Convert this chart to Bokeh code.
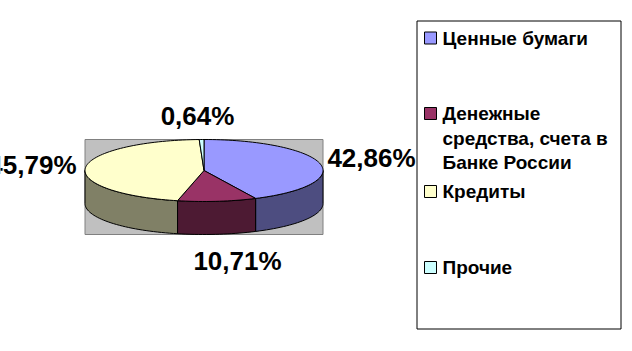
import math
from bokeh.plotting import figure
from bokeh.models import Range1d
from bokeh.core.properties import value
from bokeh.embed import file_html
from bokeh.resources import INLINE

categories = ["Ценные бумаги", "Денежные средства, счета в Банке России", "Кредиты", "Прочие"]
legend_lines = [["Ценные бумаги"], ["Денежные", "средства, счета в", "Банке России"], ["Кредиты"], ["Прочие"]]
shares = [42.86, 10.71, 45.79, 0.64]
labels = ["42,86%", "10,71%", "45,79%", "0,64%"]
top_colors = ["#9999FF", "#993366", "#FFFFCC", "#CCFFFF"]
side_colors = ["#4D4D80", "#4D1A33", "#808066", "#668080"]

W, H = 632, 351
p = figure(width=W, height=H, x_range=Range1d(0, W), y_range=Range1d(H, 0),
           output_backend="svg", toolbar_location=None, min_border=0)
p.axis.visible = False
p.grid.visible = False
p.outline_line_color = None
p.background_fill_color = "white"

cx, cy, rx, ry, depth = 203.5, 170.0, 119.0, 31.0, 33.0

# plot area background
p.quad(left=[cx - rx], right=[cx + rx], top=[cy - ry], bottom=[cy + ry + depth],
       fill_color="#C0C0C0", line_color="#808080", line_width=1)

def pt(theta_deg, dy=0.0):
    t = math.radians(theta_deg)
    return cx + rx * math.sin(t), cy - ry * math.cos(t) + dy

total = sum(shares)
bounds = []
acc = 0.0
for s in shares:
    a0 = acc / total * 360.0
    acc += s
    a1 = acc / total * 360.0
    bounds.append((a0, a1))

# side walls (front half: 90..270)
sx, sy, sc = [], [], []
for (a0, a1), col in zip(bounds, side_colors):
    lo, hi = max(a0, 90.0), min(a1, 270.0)
    if hi <= lo:
        continue
    n = max(4, int((hi - lo) / 2))
    angs = [lo + (hi - lo) * i / n for i in range(n + 1)]
    xs = [pt(a)[0] for a in angs] + [pt(a, depth)[0] for a in reversed(angs)]
    ys = [pt(a)[1] for a in angs] + [pt(a, depth)[1] for a in reversed(angs)]
    sx.append(xs); sy.append(ys); sc.append(col)
p.patches(xs=sx, ys=sy, fill_color=sc, line_color="black", line_width=1)

# top faces
tx, ty = [], []
for (a0, a1) in bounds:
    n = max(3, int((a1 - a0) / 2))
    angs = [a0 + (a1 - a0) * i / n for i in range(n + 1)]
    xs = [cx] + [pt(a)[0] for a in angs]
    ys = [cy] + [pt(a)[1] for a in angs]
    tx.append(xs); ty.append(ys)
p.patches(xs=tx, ys=ty, fill_color=top_colors, line_color="black", line_width=1)

# percentage labels
lab_x = [371, 237, 76, 197]
lab_y = [157, 260, 164, 115]
lab_align = ["center", "center", "right", "center"]
for x, y, t, al in zip(lab_x, lab_y, labels, lab_align):
    p.text(x=[x], y=[y], text=[t], text_font=value("Liberation Sans"), text_font_style="bold",
           text_font_size="26px", text_align=al, text_baseline="middle", text_color="black")

# legend box
p.quad(left=[416.5], right=[620.5], top=[20.5], bottom=[328.5], fill_color="white",
       line_color="black", line_width=1)
sq_y = [37.5, 113, 191, 267]
line_gap = 24.5
p.rect(x=[430] * 4, y=sq_y, width=12, height=12, fill_color=top_colors, line_color="black", line_width=1)
for y0, lines in zip(sq_y, legend_lines):
    for i, ln in enumerate(lines):
        p.text(x=[442], y=[y0 + i * line_gap], text=[ln], text_font=value("Liberation Sans"),
               text_font_style="bold", text_font_size="19px", text_align="left",
               text_baseline="middle", text_color="black")

open("out.html", "w").write(file_html(p, INLINE))
